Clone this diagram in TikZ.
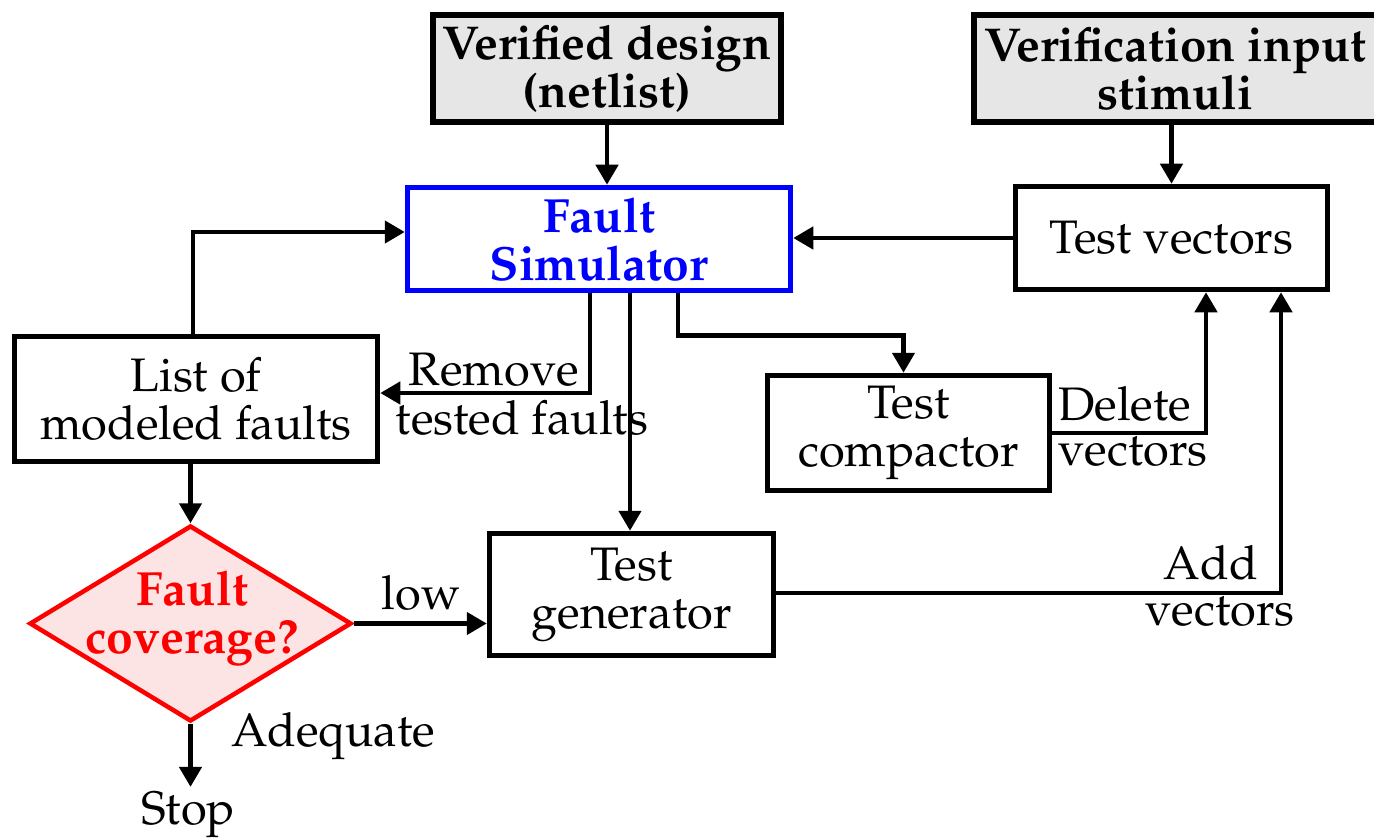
\documentclass[tikz,border=0pt]{standalone}
\usepackage[T1]{fontenc}
\usepackage{mathpazo}
\usetikzlibrary{arrows.meta,shapes.geometric,calc}
\definecolor{boxgray}{HTML}{E6E6E6}
\definecolor{pinkfill}{HTML}{FDE4E4}
\begin{document}
\begin{tikzpicture}[x=1pt,y=-1pt,
  font=\fontsize{47}{48}\selectfont,
  box/.style={draw, line width=5pt, align=center, inner sep=0pt},
  inbox/.style={box, line width=6.5pt, fill=boxgray, font=\fontsize{47.5}{48}\selectfont\bfseries},
  conn/.style={line width=4.5pt, -{Triangle[length=20pt,width=22pt]}},
  lbl/.style={inner sep=0pt, align=left}]
\useasboundingbox (0,0) rectangle (1374,840);

% inputs
\node[inbox, minimum width=348, minimum height=107] (vd) at (607,68.5) {Verified design\\(netlist)};
\node[inbox, minimum width=403, minimum height=107] (vis) at (1175.5,68.5) {Verification input\\stimuli};

% processing blocks
\node[box, draw=blue, text=blue, font=\fontsize{48}{48}\selectfont\bfseries,
      minimum width=383.5, minimum height=103.5] (fs) at (599,239) {Fault\\Simulator};
\node[box, minimum width=312.5, minimum height=103.5] (tv) at (1171.5,238) {Test vectors};
\node[box, minimum width=363.5, minimum height=125.5] (lm) at (196,399) {List of\\modeled faults};
\node[box, minimum width=282.5, minimum height=115.5] (tc) at (908.5,433) {Test\\compactor};
\node[box, minimum width=284.5, minimum height=122.5] (tg) at (631.5,594.5) {Test\\generator};

% decision
\node[diamond, draw=red, fill=pinkfill, line width=4.5pt, inner sep=0pt,
      minimum width=322, minimum height=196] (cov) at (190.5,623.5) {};
\node[text=red, font=\fontsize{48}{48}\selectfont\bfseries, align=center, inner sep=0pt] (covtxt) at (192,618) {Fault\\coverage?};
\node[inner sep=5pt] (stop) at (188,815) {Stop};

% attachment points on block edges
\coordinate (fsA) at ($(fs.south)+(-9,0)$);
\coordinate (fsB) at ($(fs.south)+(31,0)$);
\coordinate (fsC) at ($(fs.south)+(79,0)$);
\coordinate (tcT) at ($(tc.north)+(-5,0)$);
\coordinate (tvD) at ($(tv.south)+(34.5,0)$);
\coordinate (tvA) at ($(tv.south)+(109.5,0)$);
\coordinate (fsW) at ($(fs.west)+(0,-7)$);
\coordinate (lmE) at ($(lm.east)+(0,-6)$);
\coordinate (tgE) at ($(tg.east)+(0,-1.5)$);
\coordinate (lmN) at ($(lm.north)+(-3,0)$);

% connectors
\draw[conn] (vd.south) -- (vd.south |- fs.north);
\draw[conn] (tv.north |- vis.south) -- (tv.north);
\draw[conn] (tv.west) -- (fs.east |- tv.west);
\draw[conn] (lmN) |- (fsW);
\draw[conn] (fsA) |- (lmE);
\draw[conn] (fsB) -- (fsB |- tg.north);
\draw[conn] (fsC) -- ++(0,42) -| (tcT);
\draw[conn] (tc.east) -| (tvD);
\draw[conn] (tgE) -| (tvA);
\draw[conn] (cov.north |- lm.south) -- (cov.north);
\draw[conn] (cov.east) -- (cov.east -| tg.west);
\draw[conn] (cov.south) -- (cov.south |- stop.north);

% connector labels
\node[lbl] (rm1) at (494,370) {Remove};
\node[lbl] (rm2) at (522,418) {tested faults};
\node[lbl, anchor=west] (dl1) at (1058,404) {Delete};
\node[lbl, anchor=west] (dl2) at (1058,452) {vectors};
\node[lbl, anchor=east] (ad1) at (1258,563) {Add};
\node[lbl, anchor=east] (ad2) at (1295,612) {vectors};
\node[lbl] (low) at (421,593) {low};
\node[lbl] (adq) at (333,736) {Adequate};
\end{tikzpicture}
\end{document}
